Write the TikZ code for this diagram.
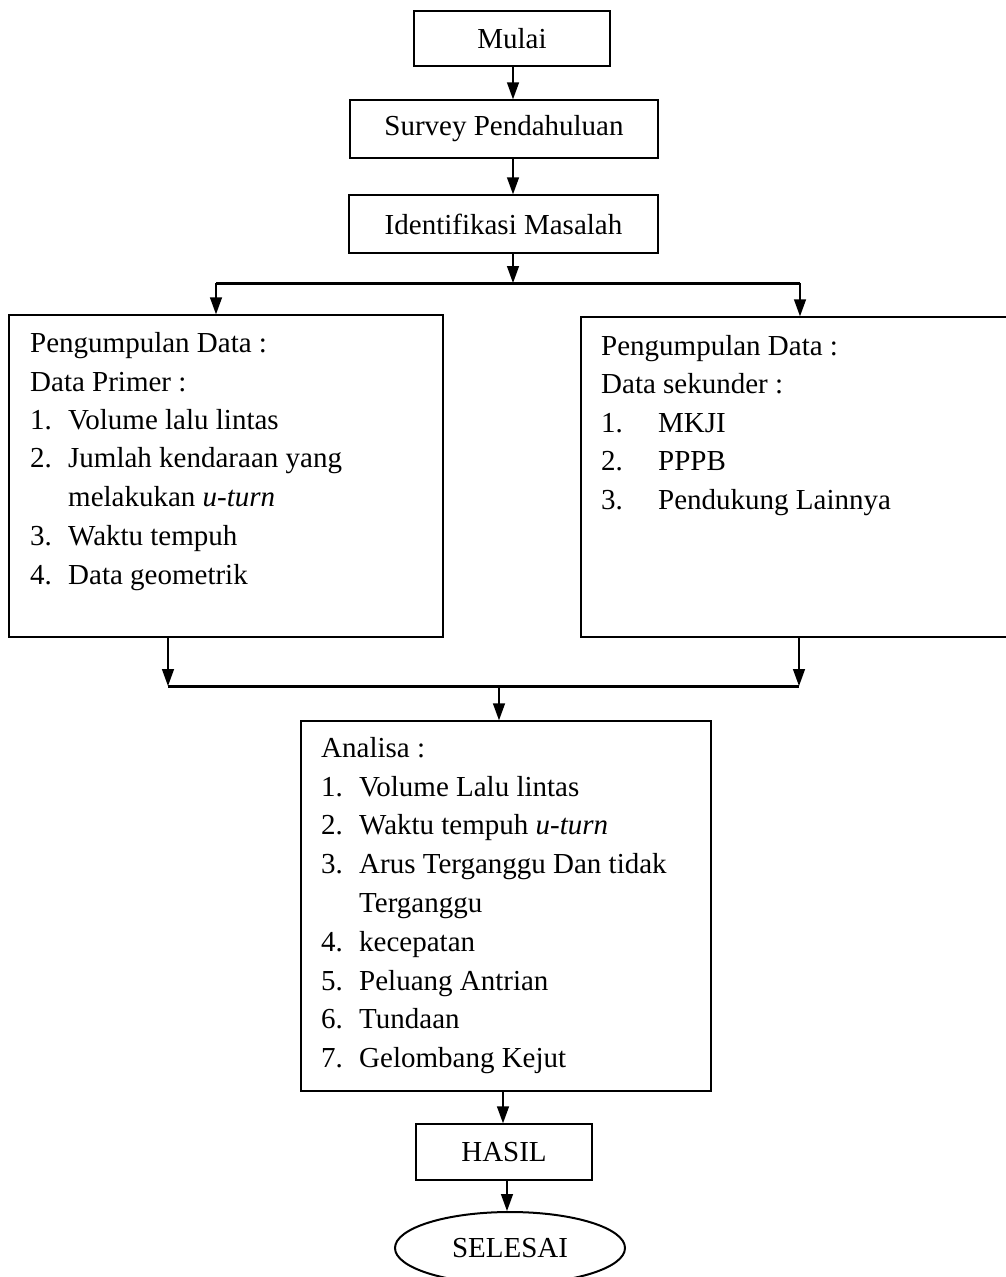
\documentclass[tikz,border=0pt]{standalone}
\usepackage{fontspec}
\setmainfont{Liberation Serif}
\usetikzlibrary{arrows.meta,shapes.geometric}
\begin{document}
\begin{tikzpicture}[x=1pt,y=-1pt,
  box/.style={draw,line width=1.4pt,rectangle,inner sep=0pt,font=\fontsize{29}{38.6}\selectfont},
  txt/.style={anchor=base west,inner sep=0pt,font=\fontsize{29}{38.6}\selectfont},
  arr/.style={line width=1.4pt,-{Triangle[length=17pt,width=12pt]}},
  hline/.style={line width=3pt},
  endell/.style={draw,ellipse,line width=2pt,inner sep=0pt,font=\fontsize{29}{38.6}\selectfont}]
\useasboundingbox (0,0) rectangle (1006,1277);
% boxes
\node[box,minimum width=196pt,minimum height=55pt] (mulai) at (512,38.5) {Mulai};
\node[box,minimum width=308pt,minimum height=58pt] (survey) at (504,129) {Survey Pendahuluan};
\node[box,minimum width=309pt,minimum height=58pt] (ident) at (503.5,224) {Identifikasi Masalah};
\node[box,minimum width=434pt,minimum height=322pt] (left) at (226,476) {};
\node[box,minimum width=431pt,minimum height=320pt] (right) at (796.5,477) {};
\node[box,minimum width=410pt,minimum height=370pt] (anal) at (506,906) {};
\node[box,minimum width=176pt,minimum height=56pt] (hasil) at (504,1152) {HASIL};
\node[endell,minimum width=230pt,minimum height=72pt] (selesai) at (510,1248) {SELESAI};
% left box text
\node[txt] (la) at (30,352) {Pengumpulan Data :};
\node[txt] (lb) at (30,391) {Data Primer :};
\node[txt] (l1n) at (30,429) {1.};
\node[txt] (l1) at (68,429) {Volume lalu lintas};
\node[txt] (l2n) at (30,467) {2.};
\node[txt] (l2) at (68,467) {Jumlah kendaraan yang};
\node[txt] (l2b) at (68,506) {melakukan \textit{u-turn}};
\node[txt] (l3n) at (30,545) {3.};
\node[txt] (l3) at (68,545) {Waktu tempuh};
\node[txt] (l4n) at (30,584) {4.};
\node[txt] (l4) at (68,584) {Data geometrik};
% right box text
\node[txt] (ra) at (601,355) {Pengumpulan Data :};
\node[txt] (rb) at (601,393) {Data sekunder :};
\node[txt] (r1n) at (601,432) {1.};
\node[txt] (r1) at (658,432) {MKJI};
\node[txt] (r2n) at (601,470) {2.};
\node[txt] (r2) at (658,470) {PPPB};
\node[txt] (r3n) at (601,509) {3.};
\node[txt] (r3) at (658,509) {Pendukung Lainnya};
% analysis text
\node[txt] (aa) at (321,757) {Analisa :};
\node[txt] (a1n) at (321,796) {1.};
\node[txt] (a1) at (359,796) {Volume Lalu lintas};
\node[txt] (a2n) at (321,834) {2.};
\node[txt] (a2) at (359,834) {Waktu tempuh \textit{u-turn}};
\node[txt] (a3n) at (321,873) {3.};
\node[txt] (a3) at (359,873) {Arus Terganggu Dan tidak};
\node[txt] (a3b) at (359,912) {Terganggu};
\node[txt] (a4n) at (321,951) {4.};
\node[txt] (a4) at (359,951) {kecepatan};
\node[txt] (a5n) at (321,990) {5.};
\node[txt] (a5) at (359,990) {Peluang Antrian};
\node[txt] (a6n) at (321,1028) {6.};
\node[txt] (a6) at (359,1028) {Tundaan};
\node[txt] (a7n) at (321,1067) {7.};
\node[txt] (a7) at (359,1067) {Gelombang Kejut};
% junction coordinates
\coordinate (j1) at (513,283);
\coordinate (j1l) at (216,283);
\coordinate (j1r) at (800,283);
\coordinate (j2l) at (168,686);
\coordinate (j2r) at (799,686);
\coordinate (j2) at (499,686);
% connectors
\draw[arr] ([xshift=1pt]mulai.south) -- ([xshift=1pt]mulai.south |- survey.north);
\draw[arr] ([xshift=9pt]survey.south) -- ([xshift=9pt]survey.south |- ident.north);
\draw[arr] (ident.south -| j1) -- (j1);
\draw[hline] (j1l) -- (j1r);
\draw[arr] (j1l) -- (j1l |- left.north);
\draw[arr] (j1r) -- (j1r |- right.north);
\draw[arr] (left.south -| j2l) -- (j2l);
\draw[arr] (right.south -| j2r) -- (j2r);
\draw[hline] (j2l) -- (j2r);
\draw[arr] (j2) -- (j2 |- anal.north);
\draw[arr] ([xshift=-3pt]anal.south) -- ([xshift=-3pt]anal.south |- hasil.north);
\draw[arr] ([xshift=3pt]hasil.south) -- ([xshift=3pt]hasil.south |- selesai.north);
\end{tikzpicture}
\end{document}
